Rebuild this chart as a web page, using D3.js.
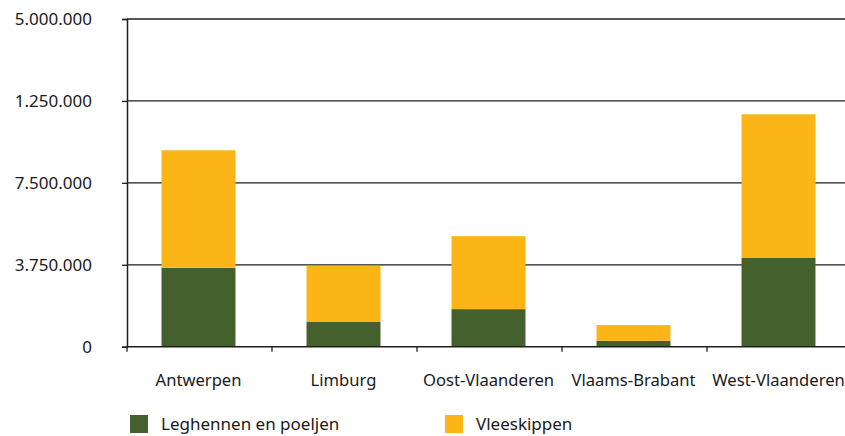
<!DOCTYPE html>
<html>
<head>
<meta charset="utf-8">
<script src="https://cdn.jsdelivr.net/npm/d3@7/dist/d3.min.js"></script>
<style>
  html, body { margin: 0; padding: 0; background: #fff; }
  svg { display: block; }
  text { font-family: "Noto Sans", sans-serif; fill: #1a1a1a; }
</style>
</head>
<body>
<svg id="chart" width="845" height="436"></svg>
<script>
const categories = ["Antwerpen", "Limburg", "Oost-Vlaanderen", "Vlaams-Brabant", "West-Vlaanderen"];
const seriesNames = ["Leghennen en poeljen", "Vleeskippen"];
const leghennen = [3610000, 1130000, 1720000, 270000, 4060000];
const vleeskippen = [5380000, 2570000, 3340000, 720000, 6580000];
const tickValues = [0, 3750000, 7500000, 11250000, 15000000];
const tickLabels = ["0", "3.750.000", "7.500.000", "1.250.000", "5.000.000"];
const colors = ["#44602d", "#fbb516"];

const svg = d3.select("#chart");
const x0 = 127, x1 = 852, yTop = 19, yBottom = 346.7;

const x = d3.scaleBand().domain(categories).range([x0 - 1, x1 - 1]).paddingInner(0.49).paddingOuter(0.245);
const y = d3.scaleLinear().domain([0, 15000000]).range([yBottom, yTop]);

const rows = categories.map((c, i) => ({ cat: c, leg: leghennen[i], vlees: vleeskippen[i] }));
const stacked = d3.stack().keys(["leg", "vlees"])(rows);

// gridlines
svg.append("g").selectAll("line").data(tickValues.slice(1)).join("line")
  .attr("x1", x0).attr("x2", 845)
  .attr("y1", d => y(d)).attr("y2", d => y(d))
  .attr("stroke", "#1e1e1e").attr("stroke-width", 1.3);

// bars
svg.append("g").selectAll("g").data(stacked).join("g")
  .attr("fill", (d, i) => colors[i])
  .selectAll("rect").data(d => d).join("rect")
  .attr("x", d => x(d.data.cat))
  .attr("width", x.bandwidth())
  .attr("y", d => y(d[1]))
  .attr("height", d => y(d[0]) - y(d[1]));

// y axis
const yAxis = svg.append("g").attr("transform", `translate(${x0},0)`)
  .call(d3.axisLeft(y).tickValues(tickValues).tickSize(5).tickPadding(30)
    .tickFormat((d, i) => tickLabels[i]));
yAxis.select(".domain").attr("stroke", "#1e1e1e").attr("stroke-width", 1.5);
yAxis.selectAll(".tick line").attr("stroke", "#1e1e1e").attr("stroke-width", 1.3);
yAxis.selectAll("text").attr("font-size", 17).attr("font-family", "Noto Sans").attr("fill", "#1a1a1a");

// x axis
const xBoundary = d3.scaleLinear().domain([0, categories.length]).range([x0, x1]);
const xAxisG = svg.append("g").attr("transform", `translate(0,${yBottom})`);
xAxisG.append("line").attr("x1", x0).attr("x2", 845).attr("y1", 0).attr("y2", 0)
  .attr("stroke", "#1e1e1e").attr("stroke-width", 1.5);
xAxisG.selectAll(".bt").data(d3.range(categories.length + 1)).join("line")
  .attr("class", "bt")
  .attr("x1", d => xBoundary(d)).attr("x2", d => xBoundary(d))
  .attr("y1", 0).attr("y2", 5)
  .attr("stroke", "#1e1e1e").attr("stroke-width", 1.3);
xAxisG.selectAll("text").data(categories).join("text")
  .attr("x", d => x(d) + x.bandwidth() / 2)
  .attr("y", 39)
  .attr("text-anchor", "middle")
  .attr("font-size", 16.6)
  .text(d => d);

// legend
const legendX = [130, 445];
const lg = svg.append("g").selectAll("g").data(seriesNames).join("g")
  .attr("transform", (d, i) => `translate(${legendX[i]},415)`);
lg.append("rect").attr("width", 18).attr("height", 18).attr("fill", (d, i) => colors[i]);
lg.append("text").attr("x", 31).attr("y", 15).attr("font-size", 17).text(d => d);
</script>
</body>
</html>
